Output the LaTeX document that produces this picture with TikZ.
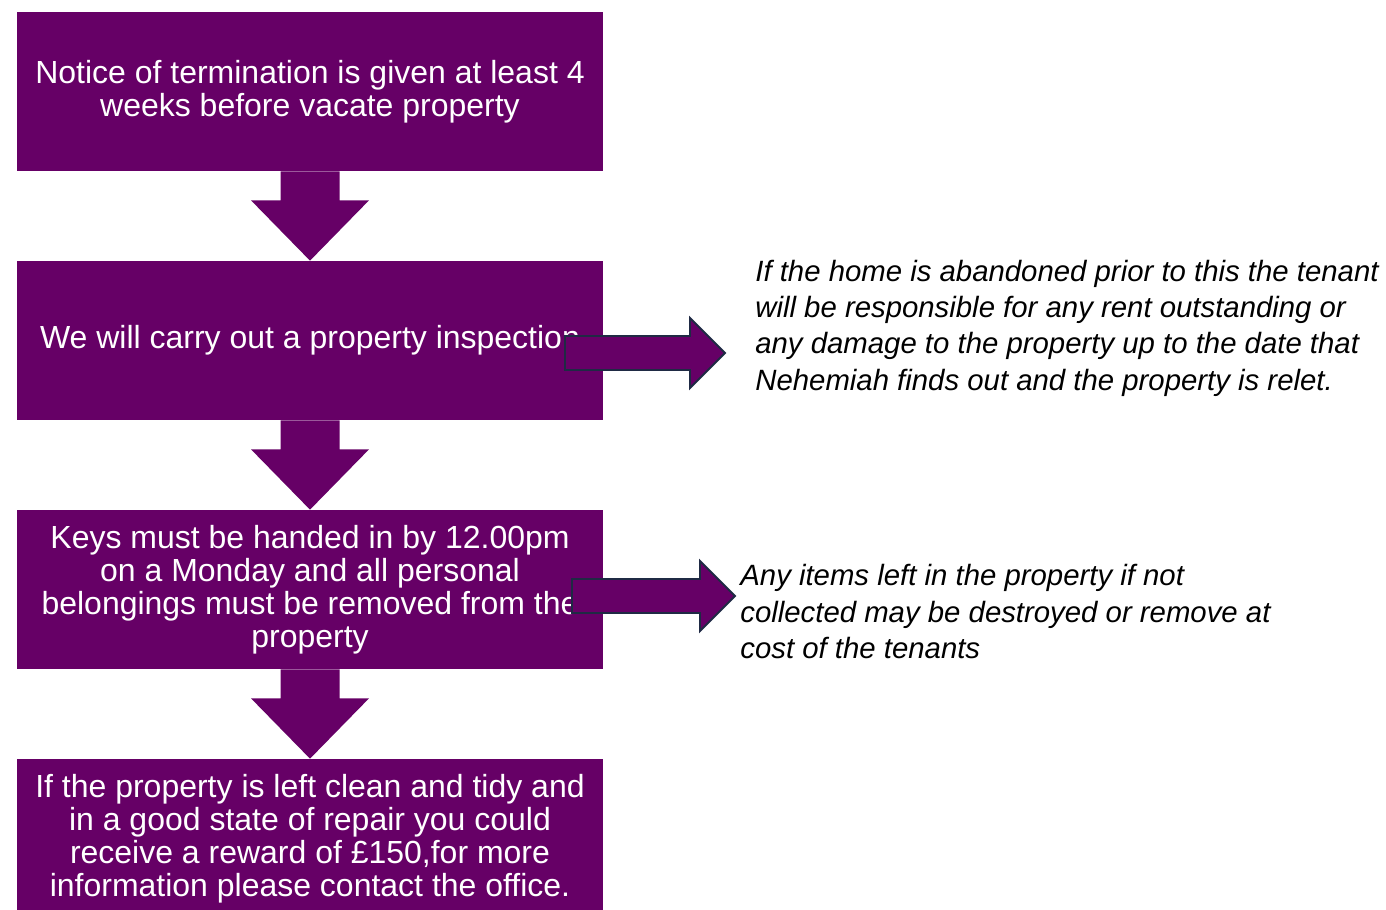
\documentclass[tikz,border=0pt]{standalone}
\usepackage{fontspec}
\setmainfont{Liberation Sans}
\usetikzlibrary{calc}
\definecolor{plum}{HTML}{660066}
\definecolor{navyline}{HTML}{1F2A44}

\begin{document}
\begin{tikzpicture}[
    stepbox/.style={fill=plum,text=white,minimum width=11.72cm,minimum height=3.18cm,
      align=center,inner sep=0pt,font=\fontsize{18.2}{18.7}\selectfont},
    note/.style={anchor=west,align=left,inner sep=0pt,font=\fontsize{16.7}{20.7}\selectfont\itshape},
    sidearrow/.style={fill=plum,draw=navyline,line width=1.1pt,line join=miter}]
  \useasboundingbox (0,0) rectangle (27.72,-18.18);

  % the four steps
  \node[stepbox] (notice)  at (6.2,-1.83)  {Notice of termination is given at least 4\\weeks before vacate property};
  \node[stepbox] (inspect) at (6.2,-6.81)  {We will carry out a property inspection};
  \node[stepbox] (keys)    at (6.2,-11.79) {Keys must be handed in by 12.00pm\\on a Monday and all personal\\belongings must be removed from the\\property};
  \node[stepbox] (reward)  at (6.2,-16.77) {If the property is left clean and tidy and\\in a good state of repair you could\\receive a reward of £150,for more\\information please contact the office.};

  % notes on the right
  \node[note] (abandon) at (15.1,-6.56)  {If the home is abandoned prior to this the tenant\\will be responsible for any rent outstanding or\\any damage to the property up to the date that\\Nehemiah finds out and the property is relet.};
  \node[note] (items)   at (14.8,-12.23) {Any items left in the property if not\\collected may be destroyed or remove at\\cost of the tenants};

  % block arrows down
  \foreach \a/\b in {notice/inspect,inspect/keys,keys/reward}
    \fill[plum] ($(\a.south)+(-0.59,0)$) -- ($(\a.south)+(-0.59,-0.58)$) -- ($(\a.south)+(-1.18,-0.58)$)
      -- (\b.north) -- ($(\a.south)+(1.18,-0.58)$) -- ($(\a.south)+(0.59,-0.58)$) -- ($(\a.south)+(0.59,0)$) -- cycle;

  % block arrows to the notes
  \coordinate (t1) at (11.3,-7.06);
  \coordinate (h1) at ($(abandon.west |- t1)+(-0.6,0)$);
  \coordinate (t2) at (11.44,-11.92);
  \coordinate (h2) at ($(items.west |- t2)+(-0.1,0)$);
  \foreach \t/\h in {t1/h1,t2/h2}
    \draw[sidearrow] ($(\t)+(0,0.34)$) -- ($(\h)+(-0.7,0.34)$) -- ($(\h)+(-0.7,0.7)$) -- (\h)
      -- ($(\h)+(-0.7,-0.7)$) -- ($(\h)+(-0.7,-0.34)$) -- ($(\t)+(0,-0.34)$) -- cycle;
\end{tikzpicture}
\end{document}
